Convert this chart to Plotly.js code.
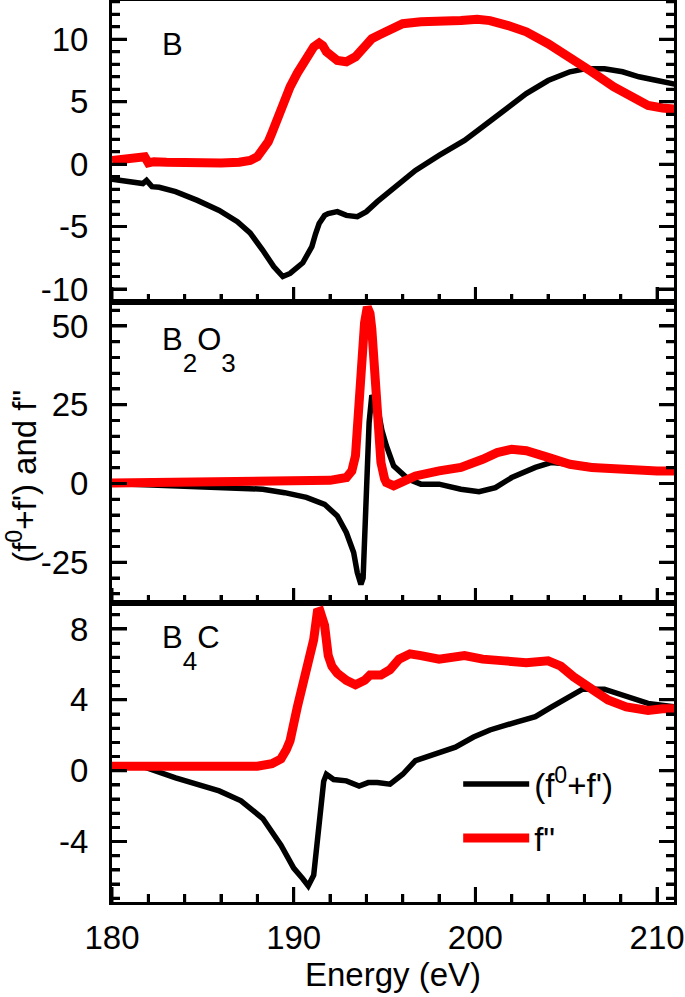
<!DOCTYPE html>
<html>
<head>
<meta charset="utf-8">
<script src="https://cdn.plot.ly/plotly-3.0.1.min.js"></script>
<style>html,body{margin:0;padding:0;background:#fff;}#chart{width:685px;height:997px;}</style>
</head>
<body>
<div id="chart"></div>
<script>
// ---------- data ----------
// Panel B : (f0+f')
var B_fp_x = [180.0,181.1,181.7,181.9,182.2,182.6,183.5,184.7,185.9,186.9,187.6,188.3,188.9,189.4,189.8,190.5,191.0,191.2,191.4,191.7,191.9,192.4,192.9,193.5,194.0,194.6,195.5,196.7,198.0,199.4,200.4,201.6,202.8,204.0,205.2,206.1,207.1,208.1,209.0,210.0,211.0];
var B_fp_y = [-1.2,-1.4,-1.55,-1.3,-1.8,-1.85,-2.2,-2.9,-3.7,-4.6,-5.5,-6.9,-8.2,-9.0,-8.75,-7.9,-6.6,-5.6,-4.75,-4.1,-3.95,-3.8,-4.1,-4.2,-3.8,-3.0,-1.95,-0.5,0.7,1.9,3.0,4.3,5.65,6.7,7.4,7.65,7.65,7.4,7.0,6.7,6.4];
// Panel B : f''
var B_fpp_x = [180.0,180.5,181.0,181.5,181.8,182.0,182.3,183.0,184.0,185.0,186.0,187.0,187.6,188.0,188.3,188.6,188.8,189.0,189.3,189.6,189.8,190.2,190.5,190.8,191.1,191.4,191.6,191.8,192.1,192.4,192.9,193.4,193.9,194.3,194.7,195.1,195.5,196.0,197.0,198.0,199.2,200.1,200.8,201.8,202.8,204.0,205.2,206.4,207.6,208.6,209.5,210.3,211.0];
var B_fpp_y = [0.3,0.35,0.45,0.55,0.6,0.1,0.2,0.15,0.1,0.12,0.1,0.15,0.3,0.6,1.1,1.8,2.5,3.3,4.6,5.6,6.2,7.3,8.1,8.8,9.4,9.7,9.5,9.0,8.6,8.3,8.2,8.6,9.4,10.05,10.35,10.6,10.9,11.25,11.4,11.4,11.5,11.6,11.5,11.1,10.6,9.65,8.6,7.4,6.2,5.4,4.7,4.5,4.4];
// Panel B2O3 : (f0+f')
var B2O3_fp_x = [180,183.5,186,187.1,188.3,189.5,190.7,191.7,192.4,192.9,193.3,193.5,193.7,193.82,193.95,194.05,194.15,194.3,194.6,194.85,195.1,195.5,196.3,197.0,198.0,199.2,200.2,201.1,202.0,203.3,204.2,205.2,206.4,207.6,210,211];
var B2O3_fp_y = [0,-0.7,-1.0,-1.3,-1.8,-2.9,-4.4,-6.6,-10.3,-15.6,-21.9,-28.3,-32,-30,-10,8,19.4,28,24.7,17,12,5.6,1.4,-0.2,-0.2,-1.8,-2.6,-1.3,1.9,5.1,6.7,6.1,5.6,4.6,4.0,4.0];
// Panel B2O3 : f''
var B2O3_fpp_x = [180,182,184,186,188,190,192,192.9,193.2,193.4,193.5,193.6,193.75,193.9,194.05,194.2,194.3,194.45,194.6,194.7,194.8,195.0,195.1,195.5,196.0,196.7,198.0,199.2,200.4,201.2,202.0,202.8,204.0,205.2,206.4,207.6,208.8,210,211];
var B2O3_fpp_y = [0.2,0.4,0.4,0.5,0.7,0.8,1.0,1.9,4,8.8,18,30,42,51,56,54,49,38,24.7,14,6.7,1.5,0.3,-0.7,0.3,2.4,4.0,5.1,7.7,9.8,10.9,10.4,8.3,6.1,5.1,4.6,4.0,4.0,4.0];
// Panel B4C : (f0+f')
var B4C_fp_x = [180,181.8,183.5,184.7,185.9,187.1,188.3,189.3,190.0,190.5,190.8,191.1,191.4,191.65,191.8,192.2,192.9,193.6,194.1,194.6,195.3,196.0,196.7,198.0,198.9,199.9,200.8,202.3,203.3,204.2,205.2,205.9,207.1,208.1,209.5,211];
var B4C_fp_y = [0.3,0.2,-0.4,-0.76,-1.14,-1.7,-2.7,-4.2,-5.5,-6.1,-6.5,-5.9,-3.05,-0.6,-0.2,-0.5,-0.57,-0.86,-0.67,-0.67,-0.76,-0.2,0.57,1.05,1.33,1.9,2.3,2.76,3.05,3.6,4.2,4.6,4.6,4.3,3.8,3.6];
// Panel B4C : f''
var B4C_fpp_x = [180,182,184,186,188,188.8,189.3,189.6,189.8,190.2,190.7,191.1,191.3,191.45,191.7,191.9,192.1,192.4,192.9,193.4,193.9,194.2,194.8,195.3,195.8,196.4,197.0,198.0,199.4,200.4,201.6,202.8,204.0,204.7,205.4,206.4,207.3,208.3,209.5,210.3,211];
var B4C_fpp_y = [0.25,0.25,0.2,0.2,0.25,0.4,0.67,1.2,1.7,3.6,5.5,7.4,8.95,9.0,8.2,6.5,5.9,5.5,5.1,4.85,5.1,5.4,5.4,5.7,6.3,6.6,6.5,6.3,6.5,6.3,6.2,6.1,6.2,5.9,5.3,4.6,4.0,3.6,3.4,3.5,3.5];

// ---------- labels / ticks ----------
var SUB = '<span style="font-size:26px;baseline-shift:-22px">';
var panelLabels = ["B", "B" + SUB + "2</span>O" + SUB + "3</span>", "B" + SUB + "4</span>C"];
var seriesNames = ["(f<sup>0</sup>+f')", "f\""];
var xTickVals = [180, 190, 200, 210];
var xTickText = ["180", "190", "200", "210"];
var xMinorVals = [182, 184, 186, 188, 192, 194, 196, 198, 202, 204, 206, 208];
var y1TickVals = [-10, -5, 0, 5, 10];
var y1TickText = ["-10", "-5", "0", "5", "10"];
var y1MinorVals = [-11, -9, -8, -7, -6, -4, -3, -2, -1, 1, 2, 3, 4, 6, 7, 8, 9, 11, 12, 13];
var y2TickVals = [-25, 0, 25, 50];
var y2TickText = ["-25", "0", "25", "50"];
var y2MinorVals = [-35, -30, -20, -15, -10, -5, 5, 10, 15, 20, 30, 35, 40, 45, 55];
var y3TickVals = [-4, 0, 4, 8];
var y3TickText = ["-4", "0", "4", "8"];
var y3MinorVals = [-7.2, -6.4, -5.6, -4.8, -3.2, -2.4, -1.6, -0.8, 0.8, 1.6, 2.4, 3.2, 4.8, 5.6, 6.4, 7.2, 8.8];
var xTitle = "Energy (eV)";
var yTitle = "(f<sup>0</sup>+f') and f\"";

var FONT = "Liberation Sans, Arial, sans-serif";
var BLACK = "#000000", RED = "#ff0000";
var XR = [180, 210.93];
var Y1R = [-11.04, 13.07], Y2R = [-37.9, 57.6], Y3R = [-7.41, 9.47];
var D1 = [0.6659, 1], D2 = [0.3319, 0.6659], D3 = [0, 0.3319];
var MAJ_LEN = 15, MIN_LEN = 8, TICK_W = 3;

function tr(x, y, xa, ya, color, width, name, show, grp) {
  return {x: x, y: y, xaxis: xa, yaxis: ya, type: "scatter", mode: "lines",
          line: {color: color, width: width}, name: name, showlegend: show, legendgroup: grp, hoverinfo: "skip"};
}

var data = [
  tr(B_fp_x, B_fp_y, "x", "y", BLACK, 5.5, seriesNames[0], false, "a"),
  tr(B_fpp_x, B_fpp_y, "x", "y", RED, 9, seriesNames[1], false, "b"),
  tr(B2O3_fp_x, B2O3_fp_y, "x2", "y2", BLACK, 5.5, seriesNames[0], false, "a"),
  tr(B2O3_fpp_x, B2O3_fpp_y, "x2", "y2", RED, 9, seriesNames[1], false, "b"),
  tr(B4C_fp_x, B4C_fp_y, "x3", "y3", BLACK, 5.5, seriesNames[0], true, "a"),
  tr(B4C_fpp_x, B4C_fpp_y, "x3", "y3", RED, 9, seriesNames[1], true, "b")
];

function xax(anchor, showLabels) {
  return {anchor: anchor, range: XR, tickmode: "array", tickvals: xTickVals, ticktext: xTickText,
    showticklabels: showLabels, ticks: "inside", ticklen: MAJ_LEN, tickwidth: TICK_W, tickcolor: BLACK,
    minor: {ticks: "inside", tickmode: "array", tickvals: xMinorVals, ticklen: MIN_LEN, tickwidth: TICK_W, tickcolor: BLACK, showgrid: false},
    showline: true, linewidth: 3, linecolor: BLACK, mirror: true, showgrid: false, zeroline: false,
    tickfont: {family: FONT, size: 33, color: BLACK}, ticklabelstandoff: 4};
}
function yax(anchor, domain, range, tv, tt, mv) {
  return {anchor: anchor, domain: domain, range: range, tickmode: "array", tickvals: tv, ticktext: tt,
    ticks: "inside", ticklen: MAJ_LEN, tickwidth: TICK_W, tickcolor: BLACK,
    minor: {ticks: "inside", tickmode: "array", tickvals: mv, ticklen: MIN_LEN, tickwidth: TICK_W, tickcolor: BLACK, showgrid: false},
    showline: true, linewidth: 3, linecolor: BLACK, mirror: "ticks", showgrid: false, zeroline: false,
    tickfont: {family: FONT, size: 33, color: BLACK}, ticklabelstandoff: 14};
}

var x3 = xax("y3", true);
x3.title = {text: xTitle, font: {family: FONT, size: 33, color: BLACK}, standoff: 6};

var layout = {
  width: 685, height: 997,
  margin: {l: 112, r: 11, t: 1, b: 95},
  paper_bgcolor: "#fff", plot_bgcolor: "#fff",
  font: {family: FONT, color: BLACK},
  showlegend: true,
  legend: {x: 0.616, y: 0.162, xanchor: "left", yanchor: "top", bgcolor: "rgba(0,0,0,0)",
           font: {family: FONT, size: 33, color: BLACK}, itemwidth: 66, tracegroupgap: 8},
  xaxis: xax("y", false),
  xaxis2: xax("y2", false),
  xaxis3: x3,
  yaxis: yax("x", D1, Y1R, y1TickVals, y1TickText, y1MinorVals),
  yaxis2: yax("x2", D2, Y2R, y2TickVals, y2TickText, y2MinorVals),
  yaxis3: yax("x3", D3, Y3R, y3TickVals, y3TickText, y3MinorVals),
  annotations: [
    {text: panelLabels[0], xref: "x domain", yref: "y domain", x: 0.085, y: 0.854, xanchor: "left", yanchor: "middle", showarrow: false, font: {family: FONT, size: 31, color: BLACK}},
    {text: panelLabels[1], xref: "x2 domain", yref: "y2 domain", x: 0.085, y: 0.84, xanchor: "left", yanchor: "middle", showarrow: false, font: {family: FONT, size: 31, color: BLACK}},
    {text: panelLabels[2], xref: "x3 domain", yref: "y3 domain", x: 0.085, y: 0.85, xanchor: "left", yanchor: "middle", showarrow: false, font: {family: FONT, size: 31, color: BLACK}},
    {text: yTitle, xref: "paper", yref: "paper", x: -0.16, y: 0.472, xanchor: "center", yanchor: "middle", textangle: -90, showarrow: false, font: {family: FONT, size: 33, color: BLACK}}
  ]
};

// Stroke the axis ticks with Plotly's own axis scales, on top of everything.
var panels = [
  {x: "xaxis", y: "yaxis", yMaj: y1TickVals, yMin: y1MinorVals},
  {x: "xaxis2", y: "yaxis2", yMaj: y2TickVals, yMin: y2MinorVals},
  {x: "xaxis3", y: "yaxis3", yMaj: y3TickVals, yMin: y3MinorVals}
];
var ticksDone = false;
function strokeTicks() {
  if (ticksDone) return;
  var gd = document.getElementById("chart");
  var fl = gd._fullLayout;
  if (!fl) return;
  var svgs = gd.querySelectorAll("svg.main-svg");
  var svg = svgs.length ? svgs[svgs.length - 1] : null;
  if (!svg) return;
  var d = "";
  panels.forEach(function (p) {
    var xa = fl[p.x], ya = fl[p.y];
    if (!xa || !ya || !xa.l2p || !ya.l2p) return;
    var xl = xa._offset, xr = xa._offset + xa._length;
    var yb = ya._offset + ya._length;
    xTickVals.forEach(function (v) { var px = xa._offset + xa.l2p(v); d += "M" + px + "," + yb + "v" + (-MAJ_LEN); });
    xMinorVals.forEach(function (v) { var px = xa._offset + xa.l2p(v); d += "M" + px + "," + yb + "v" + (-MIN_LEN); });
    p.yMaj.forEach(function (v) { var py = ya._offset + ya.l2p(v); d += "M" + xl + "," + py + "h" + MAJ_LEN + "M" + xr + "," + py + "h" + (-MAJ_LEN); });
    p.yMin.forEach(function (v) { var py = ya._offset + ya.l2p(v); d += "M" + xl + "," + py + "h" + MIN_LEN + "M" + xr + "," + py + "h" + (-MIN_LEN); });
  });
  if (!d) return;
  var NS = "http://www.w3.org/2000/svg";
  var path = document.createElementNS(NS, "path");
  path.setAttribute("d", d);
  path.setAttribute("stroke", BLACK);
  path.setAttribute("stroke-width", String(TICK_W));
  path.setAttribute("fill", "none");
  svg.appendChild(path);
  ticksDone = true;
}

try {
  var p = Plotly.newPlot("chart", data, layout, {staticPlot: true, displayModeBar: false});
  if (p && p.then) p.then(strokeTicks, strokeTicks);
} catch (e) {
  strokeTicks();
}
setTimeout(strokeTicks, 50);
setTimeout(strokeTicks, 300);
</script>
</body>
</html>
